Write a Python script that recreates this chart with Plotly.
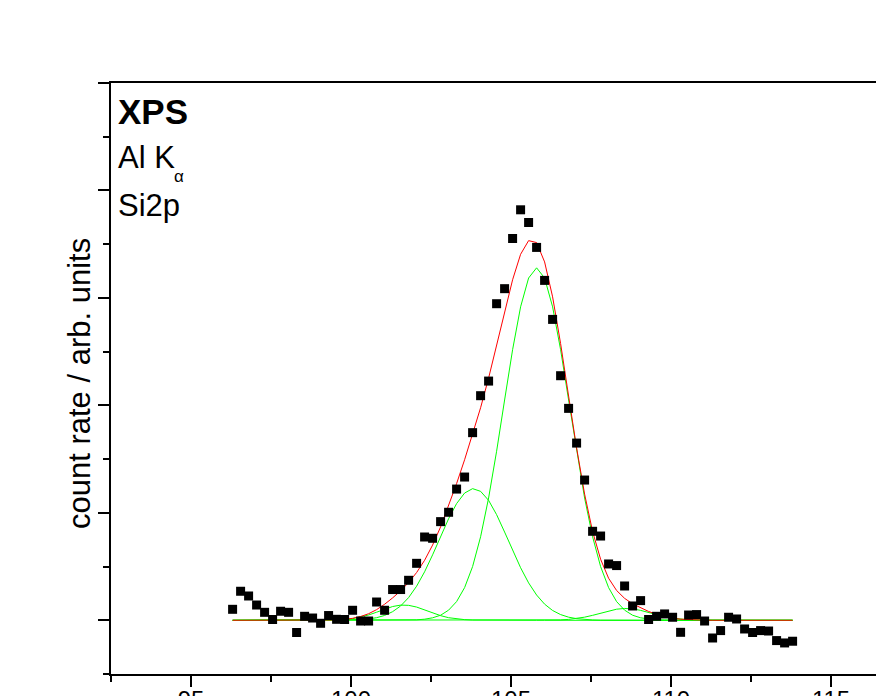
import plotly.graph_objects as go

# Binding energy / eV
energy = [96.30, 96.55, 96.80, 97.05, 97.30, 97.55, 97.80, 98.05, 98.30, 98.55,
          98.80, 99.05, 99.30, 99.55, 99.80, 100.05, 100.30, 100.55, 100.80, 101.05,
          101.30, 101.55, 101.80, 102.05, 102.30, 102.55, 102.80, 103.05, 103.30, 103.55,
          103.80, 104.05, 104.30, 104.55, 104.80, 105.05, 105.30, 105.55, 105.80, 106.05,
          106.30, 106.55, 106.80, 107.05, 107.30, 107.55, 107.80, 108.05, 108.30, 108.55,
          108.80, 109.05, 109.30, 109.55, 109.80, 110.05, 110.30, 110.55, 110.80, 111.05,
          111.30, 111.55, 111.80, 112.05, 112.30, 112.55, 112.80, 113.05, 113.30, 113.55,
          113.80]

counts = [0.102, 0.270, 0.226, 0.142, 0.074, 0.007, 0.084, 0.074, -0.114, 0.037,
          0.021, -0.028, 0.044, 0.009, 0.007, 0.093, -0.007, -0.007, 0.170, 0.093,
          0.286, 0.286, 0.372, 0.530, 0.775, 0.763, 0.918, 1.005, 1.221, 1.333,
          1.746, 2.090, 2.226, 2.946, 3.086, 3.553, 3.820, 3.702, 3.470, 3.163,
          2.800, 2.276, 1.972, 1.649, 1.305, 0.828, 0.784, 0.524, 0.509, 0.319,
          0.133, 0.183, 0.007, 0.037, 0.059, 0.028, -0.112, 0.049, 0.053, -0.007,
          -0.165, -0.096, 0.028, 0.012, -0.081, -0.114, -0.096, -0.100, -0.189, -0.211,
          -0.195]

peak_main = [0] * 22 + [0.002, 0.004, 0.010, 0.023, 0.047, 0.094, 0.174, 0.304, 0.500, 0.777,
                        1.138, 1.573, 2.050, 2.518, 2.917, 3.185, 3.280, 3.185, 2.917, 2.518,
                        2.050, 1.573, 1.138, 0.777, 0.500, 0.304, 0.174, 0.094, 0.047, 0.023,
                        0.010, 0.004, 0.002] + [0] * 16

peak_second = [0] * 14 + [0.001, 0.003, 0.006, 0.012, 0.024, 0.045, 0.080, 0.133, 0.211, 0.317,
                          0.451, 0.609, 0.779, 0.945, 1.086, 1.184, 1.225, 1.200, 1.116, 0.983,
                          0.821, 0.651, 0.489, 0.348, 0.235, 0.150, 0.091, 0.053, 0.029, 0.015,
                          0.007, 0.003, 0.001] + [0] * 24

peak_low_left = [0] * 13 + [0.003, 0.007, 0.015, 0.029, 0.049, 0.075, 0.104, 0.128, 0.141, 0.139,
                            0.123, 0.097, 0.068, 0.043, 0.024, 0.012, 0.006, 0.002, 0.001] + [0] * 39

peak_low_right = [0] * 40 + [0.002, 0.004, 0.008, 0.016, 0.029, 0.046, 0.067, 0.087, 0.103, 0.110,
                             0.106, 0.092, 0.072, 0.051, 0.033, 0.019, 0.010, 0.005, 0.002, 0.001] + [0] * 11

envelope = [0] * 13 + [0.003, 0.008, 0.018, 0.035, 0.061, 0.099, 0.149, 0.208, 0.274, 0.352,
                       0.444, 0.558, 0.700, 0.869, 1.063, 1.272, 1.494, 1.727, 1.978, 2.254,
                       2.556, 2.871, 3.169, 3.406, 3.533, 3.515, 3.335, 3.010, 2.575, 2.087,
                       1.604, 1.174, 0.826, 0.568, 0.391, 0.277, 0.204, 0.153, 0.115, 0.082,
                       0.055, 0.035, 0.019, 0.010, 0.005, 0.002, 0.001] + [0] * 11

x_ticks = [95, 100, 105, 110, 115]
x_minor = [92.5, 97.5, 102.5, 107.5, 112.5]

FONT = "Liberation Sans, Arial, sans-serif"
W, H = 876, 696
ML, MR, MT, MB = 111, 0, 83, 22

fig = go.Figure()
for comp in [peak_low_left, peak_low_right, peak_second, peak_main]:
    fig.add_trace(go.Scatter(x=energy, y=comp, mode="lines",
                             line=dict(color="#00ff00", width=1), hoverinfo="skip"))
fig.add_trace(go.Scatter(x=energy, y=envelope, mode="lines",
                         line=dict(color="#ff0000", width=1), hoverinfo="skip"))
fig.add_trace(go.Scatter(x=energy, y=counts, mode="markers",
                         marker=dict(symbol="square", size=9, color="black",
                                     line=dict(width=0))))

def px(xp, yp):
    return (xp - ML) / (W - ML - MR), (H - MB - yp) / (H - MT - MB)

annots = []
ax, ay = px(80, 384)
annots.append(dict(x=ax, y=ay, xref="paper", yref="paper", text="count rate / arb. units",
                   textangle=-90, showarrow=False, xanchor="center", yanchor="middle",
                   font=dict(family=FONT, size=31, color="black")))
tx, ty = px(116, 112)
annots.append(dict(x=tx, y=ty, xref="paper", yref="paper", text="<b>XPS</b>",
                   showarrow=False, xanchor="left", yanchor="middle",
                   font=dict(family=FONT, size=35, color="black")))
tx, ty = px(116, 157)
annots.append(dict(x=tx, y=ty, xref="paper", yref="paper", text="Al K",
                   showarrow=False, xanchor="left", yanchor="middle",
                   font=dict(family=FONT, size=31, color="black")))
tx, ty = px(172, 176)
annots.append(dict(x=tx, y=ty, xref="paper", yref="paper", text="α",
                   showarrow=False, xanchor="left", yanchor="middle",
                   font=dict(family=FONT, size=17, color="black")))
tx, ty = px(116, 205)
annots.append(dict(x=tx, y=ty, xref="paper", yref="paper", text="Si2p",
                   showarrow=False, xanchor="left", yanchor="middle",
                   font=dict(family=FONT, size=31, color="black")))

fig.update_layout(
    width=W, height=H,
    margin=dict(l=ML, r=MR, t=MT, b=MB, pad=0),
    paper_bgcolor="white", plot_bgcolor="white",
    showlegend=False,
    annotations=annots,
    font=dict(family=FONT, color="black"),
    xaxis=dict(range=[92.5, 92.5 + (W - ML - MR) / 32.0],
               tickvals=x_ticks, ticktext=[str(v) for v in x_ticks],
               ticks="outside", ticklen=11, tickwidth=2, tickcolor="black",
               ticklabelstandoff=-8,
               minor=dict(tickvals=x_minor, ticks="outside", ticklen=6, tickwidth=2,
                          tickcolor="black"),
               showline=True, linewidth=2, linecolor="black", mirror=True,
               showgrid=False, zeroline=False, automargin=False,
               tickfont=dict(family=FONT, size=24, color="black")),
    yaxis=dict(range=[-0.5, 5], tick0=0, dtick=1, showticklabels=False,
               ticks="outside", ticklen=11, tickwidth=2, tickcolor="black",
               minor=dict(tick0=-0.5, dtick=0.5, ticks="outside", ticklen=6, tickwidth=2,
                          tickcolor="black"),
               showline=True, linewidth=2, linecolor="black", mirror=False,
               showgrid=False, zeroline=False, automargin=False),
)

fig.write_html("out.html")
